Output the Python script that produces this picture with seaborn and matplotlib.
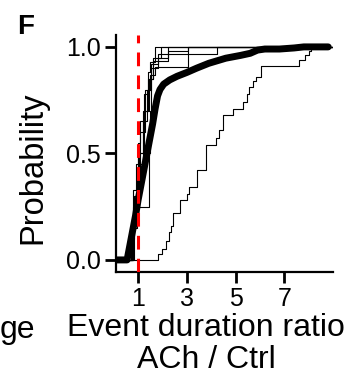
import numpy as np
import pandas as pd
import matplotlib
matplotlib.use("Agg")
import matplotlib.pyplot as plt
import seaborn as sns

# pooled cumulative distribution (thick line)
pool_x = [0.1, 0.55, 0.75, 0.9, 1.0, 1.15, 1.3, 1.45, 1.6, 1.7, 1.8, 1.9, 2.05, 2.3,
          2.6, 3.0, 3.4, 3.9, 4.6, 5.2, 5.6, 5.9, 6.2, 6.8, 7.4, 7.8, 8.8]
pool_y = [0.0, 0.0, 0.12, 0.21, 0.28, 0.37, 0.46, 0.55, 0.64, 0.71, 0.77, 0.80, 0.825, 0.845,
          0.862, 0.88, 0.90, 0.923, 0.947, 0.96, 0.97, 0.985, 0.99, 0.99, 0.995, 1.0, 1.0]

# individual cells (thin step lines)
cell_x = [
    [0.1, 0.8, 0.9, 1.0, 1.1, 1.25, 1.4, 1.5, 1.68, 9.0],
    [0.1, 0.8, 1.45, 1.5, 1.55, 1.6, 1.93, 9.0],
    [0.1, 0.7, 0.85, 1.0, 1.2, 1.4, 1.55, 1.82, 2.22, 9.0],
    [0.1, 0.75, 0.95, 1.1, 1.3, 1.5, 1.7, 3.04, 9.0],
    [0.1, 0.8, 1.0, 1.2, 1.35, 1.55, 1.82, 4.22, 9.0],
    [0.1, 0.85, 1.05, 1.25, 1.45, 1.61, 2.22, 3.04, 9.0],
    [0.1, 1.8, 2.0, 2.15, 2.25, 2.35, 2.45, 2.7, 3.0, 3.1, 3.4, 3.8, 4.2, 4.3, 4.5,
     4.9, 5.3, 5.45, 5.55, 5.7, 5.85, 6.05, 7.6, 7.85, 8.0, 8.1, 9.0],
]
cell_y = [
    [0.0, 0.33, 0.45, 0.55, 0.65, 0.78, 0.88, 0.93, 1.0, 1.0],
    [0.0, 0.25, 0.50, 0.70, 0.85, 0.95, 1.0, 1.0],
    [0.0, 0.10, 0.30, 0.50, 0.70, 0.85, 0.90, 0.95, 1.0, 1.0],
    [0.0, 0.15, 0.40, 0.60, 0.80, 0.87, 0.907, 1.0, 1.0],
    [0.0, 0.20, 0.45, 0.65, 0.80, 0.92, 0.966, 1.0, 1.0],
    [0.0, 0.25, 0.50, 0.70, 0.85, 0.934, 0.98, 1.0, 1.0],
    [0.0, 0.03, 0.05, 0.09, 0.13, 0.16, 0.22, 0.28, 0.31, 0.34, 0.42, 0.54, 0.57, 0.61, 0.68,
     0.71, 0.74, 0.78, 0.81, 0.84, 0.86, 0.91, 0.94, 0.96, 0.98, 1.0, 1.0],
]

x_ticks = [1, 3, 5, 7]
y_ticks = [0.0, 0.5, 1.0]

sns.set_style("ticks")
plt.rcParams["font.family"] = ["Liberation Sans", "DejaVu Sans"]
plt.rcParams["text.color"] = "black"
plt.rcParams["axes.labelcolor"] = "black"

fig = plt.figure(figsize=(3.54, 3.76), dpi=100)
ax = fig.add_axes([0.328, 0.277, 0.613, 0.630])

for xs, ys in zip(cell_x, cell_y):
    d = pd.DataFrame({"ratio": xs, "prob": ys})
    sns.lineplot(data=d, x="ratio", y="prob", estimator=None, sort=False,
                 drawstyle="steps-post", color="black", linewidth=0.8, ax=ax)

pool = pd.DataFrame({"ratio": pool_x, "prob": pool_y})
sns.lineplot(data=pool, x="ratio", y="prob", estimator=None, sort=False,
             color="black", linewidth=5, solid_capstyle="round", ax=ax)

ax.axvline(1, color="#ff0000", linewidth=2.2, linestyle=(0, (4.5, 3)), zorder=5)

ax.set_xlim(0.1, 9)
ax.set_ylim(-0.056, 1.056)
ax.set_xticks(x_ticks)
ax.set_xticklabels([str(t) for t in x_ticks])
ax.set_yticks(y_ticks)
ax.set_yticklabels([f"{t:.1f}" for t in y_ticks])
ax.tick_params(length=8, width=2, labelsize=18, pad=3, color="black", labelcolor="black")
for s in ["left", "bottom"]:
    ax.spines[s].set_linewidth(1.6)
    ax.spines[s].set_color("black")
sns.despine(ax=ax)

ax.set_ylabel("Probability", fontsize=23.5)
ax.yaxis.set_label_coords(-0.31, 0.44)
ax.set_xlabel("Event duration ratio\nACh / Ctrl", fontsize=23, linespacing=1.08)
ax.xaxis.set_label_coords(0.415, -0.175)

fig.text(17 / 354, 1 - 34 / 376, "F", fontsize=20, fontweight="bold", va="baseline")
fig.text(0.0, 1 - 338 / 376, "ge", fontsize=23, va="baseline")

fig.savefig("out.png", dpi=100)
